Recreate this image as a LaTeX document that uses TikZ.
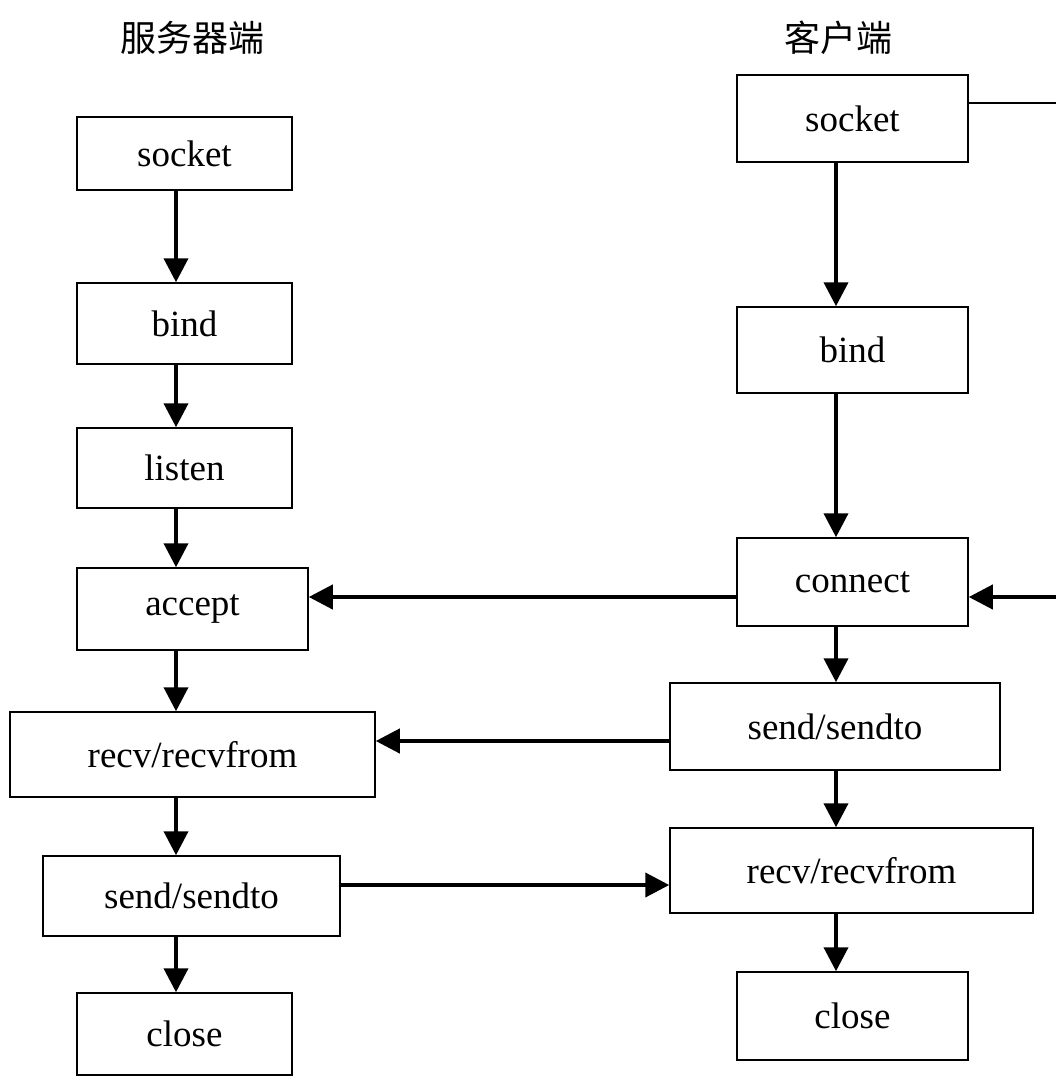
\documentclass[tikz,border=0pt]{standalone}
\usepackage{fontspec}
\setmainfont{Liberation Serif}
\newfontfamily\cjk{Noto Sans CJK SC}
\usetikzlibrary{arrows.meta}
\begin{document}
\begin{tikzpicture}[x=1pt,y=-1pt,
  box/.style={draw,line width=1.5pt,inner sep=0pt,font=\fontsize{37}{44}\selectfont},
  arr/.style={line width=4pt,-{Triangle[width=24pt,length=24pt]}},
  title/.style={font=\cjk\fontsize{36}{44}\selectfont}]
\path[use as bounding box] (0,0) rectangle (1056,1087);

% column titles
\node[title] (tserver) at (192,38) {服务器端};
\node[title] (tclient) at (838,38) {客户端};

% server side
\node[box,minimum width=215pt,minimum height=73pt] (ssock) at (184.5,153.5) {socket};
\node[box,minimum width=215pt,minimum height=81pt] (sbind) at (184.5,323.5) {bind};
\node[box,minimum width=215pt,minimum height=80pt] (slist) at (184.5,468) {listen};
\node[box,minimum width=231pt,minimum height=82pt] (sacc) at (192.5,609) {accept};
\node[box,minimum width=365pt,minimum height=85pt] (srecv) at (192.5,754.5) {recv/recvfrom};
\node[box,minimum width=297pt,minimum height=80pt] (ssend) at (191.5,896) {send/sendto};
\node[box,minimum width=215pt,minimum height=82pt] (sclose) at (184.5,1034) {close};

% client side
\node[box,minimum width=231pt,minimum height=87pt] (csock) at (852.5,118.5) {socket};
\node[box,minimum width=231pt,minimum height=86pt] (cbind) at (852.5,350) {bind};
\node[box,minimum width=231pt,minimum height=88pt] (cconn) at (852.5,582) {connect};
\node[box,minimum width=330pt,minimum height=87pt] (csend) at (835,726.5) {send/sendto};
\node[box,minimum width=363pt,minimum height=85pt] (crecv) at (851.5,870.5) {recv/recvfrom};
\node[box,minimum width=231pt,minimum height=88pt] (cclose) at (852.5,1016) {close};

% guide coordinates for the connectors
\coordinate (sx) at (176,0);
\coordinate (cx) at (836,0);
\coordinate (yconn) at (0,597);
\coordinate (ysend) at (0,741);
\coordinate (yback) at (0,885);
\coordinate (ysock) at (0,103);
\coordinate (edgeA) at (1056,103);
\coordinate (edgeB) at (1056,597);

% server sequence
\draw[arr] (ssock.south -| sx) -- (sbind.north -| sx);
\draw[arr] (sbind.south -| sx) -- (slist.north -| sx);
\draw[arr] (slist.south -| sx) -- (sacc.north -| sx);
\draw[arr] (sacc.south -| sx) -- (srecv.north -| sx);
\draw[arr] (srecv.south -| sx) -- (ssend.north -| sx);
\draw[arr] (ssend.south -| sx) -- (sclose.north -| sx);

% client sequence
\draw[arr] (csock.south -| cx) -- (cbind.north -| cx);
\draw[arr] (cbind.south -| cx) -- (cconn.north -| cx);
\draw[arr] (cconn.south -| cx) -- (csend.north -| cx);
\draw[arr] (csend.south -| cx) -- (crecv.north -| cx);
\draw[arr] (crecv.south -| cx) -- (cclose.north -| cx);

% exchanges between the two sides
\draw[arr] (cconn.west |- yconn) -- (sacc.east |- yconn);
\draw[arr] (csend.west |- ysend) -- (srecv.east |- ysend);
\draw[arr] (ssend.east |- yback) -- (crecv.west |- yback);

% loop back on the right
\draw[line width=1.5pt] (csock.east |- ysock) -- (edgeA);
\draw[arr] (edgeB) -- (cconn.east |- yconn);
\end{tikzpicture}
\end{document}
